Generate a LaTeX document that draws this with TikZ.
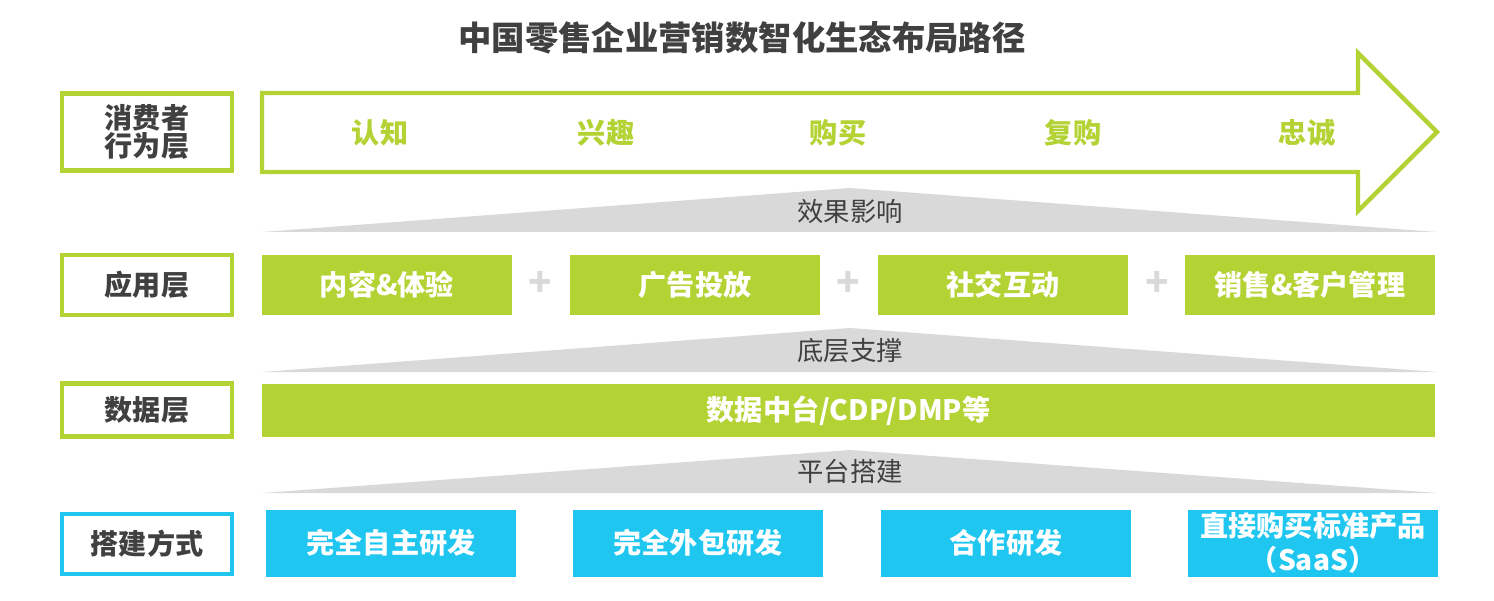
\documentclass[tikz,border=0pt]{standalone}
\usepackage{fontspec}
\newfontfamily\cjk{Noto Sans CJK SC}
\definecolor{lg}{HTML}{B3D334}
\definecolor{cy}{HTML}{1FC6F0}
\definecolor{tg}{HTML}{404040}
\definecolor{gr}{HTML}{D9D9D9}
\begin{document}
\begin{tikzpicture}[x=0.02cm,y=-0.02cm,
 lab/.style={draw=lg,line width=2.5pt,fill=white,minimum width=170*0.02cm,font=\cjk\bfseries\fontsize{16}{18}\selectfont,text=tg,align=center},
 gbox/.style={fill=lg,minimum width=250*0.02cm,minimum height=60*0.02cm,font=\cjk\bfseries\fontsize{16}{18}\selectfont,text=white,inner sep=0},
 cbox/.style={fill=cy,minimum width=250*0.02cm,minimum height=67*0.02cm,font=\cjk\bfseries\fontsize{16}{19}\selectfont,text=white,align=center,inner sep=0},
 stage/.style={font=\cjk\bfseries\fontsize{16}{18}\selectfont,text=lg},
 tri/.style={fill=gr},
 tl/.style={font=\cjk\fontsize{15}{17}\selectfont,text=tg},
 plus/.style={font=\cjk\bfseries\fontsize{22}{22}\selectfont,text=gr}]
\useasboundingbox (0,0) rectangle (1494,601);
\node[font=\cjk\bfseries\fontsize{19}{22}\selectfont,text=tg] (title) at (742,38) {中国零售企业营销数智化生态布局路径};
% labels
\node[lab,minimum height=77*0.02cm] (l1) at (147,132) {消费者\\[-2pt]行为层};
\node[lab,minimum height=60*0.02cm] (l2) at (147,285) {应用层};
\node[lab,minimum height=53*0.02cm] (l3) at (147,410) {数据层};
\node[lab,draw=cy,minimum height=60*0.02cm] (l4) at (147,544) {搭建方式};
% arrow
\draw[lg,line width=2.5pt,fill=white,line join=miter] (262,93) -- (1358,93) -- (1358,53) -- (1437,132) -- (1358,211) -- (1358,172) -- (262,172) -- cycle;
\node[stage] (s1) at (380,133) {认知};
\node[stage] (s2) at (606,133) {兴趣};
\node[stage] (s3) at (838,133) {购买};
\node[stage] (s4) at (1073,133) {复购};
\node[stage] (s5) at (1307,133) {忠诚};
% triangles
\fill[tri] (262,232) -- (850,188) -- (1437,232) -- cycle;
\node[tl] (t1) at (850,211) {效果影响};
\fill[tri] (262,372) -- (850,328) -- (1437,372) -- cycle;
\node[tl] (t2) at (850,351) {底层支撑};
\fill[tri] (262,493) -- (850,450) -- (1437,493) -- cycle;
\node[tl] (t3) at (850,471) {平台搭建};
% app
\node[gbox] (a1) at (387,285) {内容\&体验};
\node[gbox] (a2) at (695,285) {广告投放};
\node[gbox] (a3) at (1003,285) {社交互动};
\node[gbox] (a4) at (1310,285) {销售\&客户管理};
\node[plus] (p1) at (540,284) {+};
\node[plus] (p2) at (848,284) {+};
\node[plus] (p3) at (1157,284) {+};
% data
\node[gbox,minimum width=1173*0.02cm,minimum height=53*0.02cm] (d) at (848.5,410.5) {数据中台/CDP/DMP等};
% build
\node[cbox] (b1) at (391,543) {完全自主研发};
\node[cbox] (b2) at (698,543) {完全外包研发};
\node[cbox] (b3) at (1006,543) {合作研发};
\node[cbox] (b4) at (1313,543) {直接购买标准产品\\（SaaS）};
\end{tikzpicture}
\end{document}
